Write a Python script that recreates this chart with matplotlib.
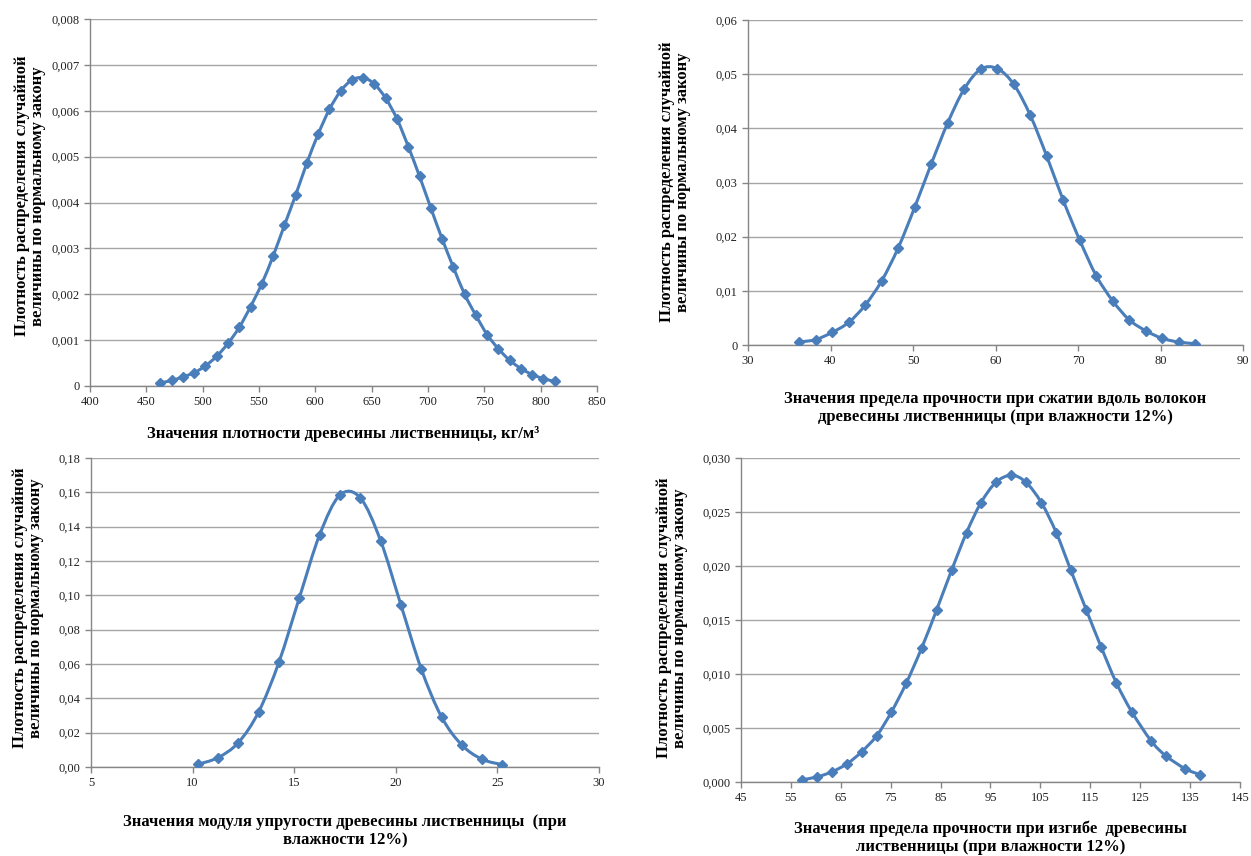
import matplotlib.pyplot as plt
import numpy as np
from matplotlib.patches import PathPatch
from matplotlib.path import Path
from matplotlib.ticker import FixedLocator, FuncFormatter

plt.rcParams["font.family"] = ["Liberation Serif", "DejaVu Serif"]

LINE_COLOR = "#4a7ebb"
AXIS_COLOR = "#868686"
GRID_COLOR = "#a6a6a6"

YLABEL = "Плотность распределения случайной\nвеличины по нормальному закону"

# Density of larch wood, kg/m3
density_x = [462.5, 472.5, 482.5, 492.5, 502.5, 512.5, 522.5, 532.5, 542.5,
             552.5, 562.5, 572.5, 582.5, 592.5, 602.5, 612.5, 622.5, 632.5,
             642.5, 652.5, 662.5, 672.5, 682.5, 692.5, 702.5, 712.5, 722.5,
             732.5, 742.5, 752.5, 762.5, 772.5, 782.5, 792.5, 802.5, 812.5]
density_y = [0.00007, 0.00012, 0.00020, 0.00029, 0.00044, 0.00065, 0.00093,
             0.00128, 0.00173, 0.00223, 0.00283, 0.00350, 0.00416, 0.00486,
             0.00549, 0.00603, 0.00643, 0.00667, 0.00672, 0.00658, 0.00627,
             0.00582, 0.00522, 0.00457, 0.00388, 0.00321, 0.00259, 0.00200,
             0.00154, 0.00112, 0.00081, 0.00056, 0.00038, 0.00025, 0.00016,
             0.00010]

# Compression strength along the grain
compress_x = [36.2, 38.2, 40.2, 42.2, 44.2, 46.2, 48.2, 50.2, 52.2, 54.2,
              56.2, 58.2, 60.2, 62.2, 64.2, 66.2, 68.2, 70.2, 72.2, 74.2,
              76.2, 78.2, 80.2, 82.2, 84.2]
compress_y = [0.00055, 0.0010, 0.00233, 0.00417, 0.00736, 0.01184, 0.01791,
              0.0254, 0.03337, 0.04098, 0.04724, 0.05092, 0.05104, 0.04816,
              0.04245, 0.03491, 0.02675, 0.01939, 0.01282, 0.00816, 0.00466,
              0.00264, 0.00123, 0.00055, 0.00025]

# Modulus of elasticity
modulus_x = [10.25, 11.25, 12.25, 13.25, 14.25, 15.25, 16.25, 17.25, 18.25,
             19.25, 20.25, 21.25, 22.25, 23.25, 24.25, 25.25]
modulus_y = [0.00156, 0.00545, 0.0142, 0.0321, 0.0611, 0.0984, 0.1352, 0.1584,
             0.1568, 0.1319, 0.0945, 0.0572, 0.0292, 0.0128, 0.0045, 0.00136]

# Bending strength
bending_x = [57.2, 60.2, 63.3, 66.3, 69.2, 72.2, 75.1, 78.1, 81.2, 84.2, 87.2,
             90.2, 93.1, 96.1, 99.2, 102.1, 105.2, 108.2, 111.1, 114.2, 117.2,
             120.2, 123.3, 127.2, 130.1, 134.0, 137.0]
bending_y = [0.00022, 0.00046, 0.00096, 0.0017, 0.00281, 0.00429, 0.00645,
             0.00914, 0.0124, 0.01593, 0.0196, 0.02309, 0.02586, 0.02775,
             0.0284, 0.02775, 0.02586, 0.02306, 0.0196, 0.01593, 0.01247,
             0.0092, 0.00651, 0.0038, 0.00244, 0.00123, 0.00068]

PANELS = [
    dict(x=density_x, y=density_y, rect=(90, 19, 597, 386),
         xticks=np.arange(400, 851, 50), yticks=np.arange(0, 0.0081, 0.001),
         ydec=3, yzero="0", ylab=(30, 196),
         xlabel="Значения плотности древесины лиственницы, кг/м³", xlab_y=434),
    dict(x=compress_x, y=compress_y, rect=(748, 20, 1243, 345),
         xticks=np.arange(30, 91, 10), yticks=np.arange(0, 0.061, 0.01),
         ydec=2, yzero="0", ylab=(675, 182),
         xlabel="Значения предела прочности при сжатии вдоль волокон\n"
                "древесины лиственницы (при влажности 12%)", xlab_y=408),
    dict(x=modulus_x, y=modulus_y, rect=(91, 458, 599, 767),
         xticks=np.arange(5, 31, 5), yticks=np.arange(0, 0.181, 0.02),
         ydec=2, yzero="0,00", ylab=(28, 608),
         xlabel="Значения модуля упругости древесины лиственницы  (при\n"
                "влажности 12%)", xlab_y=831),
    dict(x=bending_x, y=bending_y, rect=(741, 458, 1240, 782),
         xticks=np.arange(45, 146, 10), yticks=np.arange(0, 0.0301, 0.005),
         ydec=3, yzero="0,000", ylab=(672, 618),
         xlabel="Значения предела прочности при изгибе  древесины\n"
                "лиственницы (при влажности 12%)", xlab_y=838),
]

W, H = 1251, 856


def smooth_path(x, y):
    # Excel-like smoothed line: Catmull-Rom converted to cubic Bezier segments
    x = np.asarray(x, float)
    y = np.asarray(y, float)
    px = np.concatenate([[x[0]], x, [x[-1]]])
    py = np.concatenate([[y[0]], y, [y[-1]]])
    verts = [(x[0], y[0])]
    codes = [Path.MOVETO]
    for i in range(1, len(px) - 2):
        c1 = (px[i] + (px[i + 1] - px[i - 1]) / 6, py[i] + (py[i + 1] - py[i - 1]) / 6)
        c2 = (px[i + 1] - (px[i + 2] - px[i]) / 6, py[i + 1] - (py[i + 2] - py[i]) / 6)
        verts += [c1, c2, (px[i + 1], py[i + 1])]
        codes += [Path.CURVE4] * 3
    return Path(verts, codes)


def comma_fmt(dec, zero):
    def fmt(v, _):
        if abs(v) < 1e-12:
            return zero
        if dec == 0:
            return f"{v:.0f}"
        return f"{v:.{dec}f}".replace(".", ",")
    return FuncFormatter(fmt)


fig = plt.figure(figsize=(W / 100, H / 100), dpi=100)

for p in PANELS:
    l, t, r, b = p["rect"]
    ax = fig.add_axes([l / W, 1 - b / H, (r - l) / W, (b - t) / H])
    xt, yt = p["xticks"], p["yticks"]
    ax.set_xlim(xt[0], xt[-1])
    ax.set_ylim(0, yt[-1])
    ax.xaxis.set_major_locator(FixedLocator(xt))
    ax.yaxis.set_major_locator(FixedLocator(yt))
    ax.xaxis.set_major_formatter(comma_fmt(0, "0"))
    ax.yaxis.set_major_formatter(comma_fmt(p["ydec"], p["yzero"]))

    ax.grid(axis="y", color=GRID_COLOR, lw=1.0)
    ax.set_axisbelow(True)
    for side in ("top", "right"):
        ax.spines[side].set_visible(False)
    for side in ("left", "bottom"):
        ax.spines[side].set_color(AXIS_COLOR)
        ax.spines[side].set_linewidth(1.0)
    ax.tick_params(axis="both", colors=AXIS_COLOR, length=4, width=1.0,
                   labelsize=9, labelcolor="#222222")
    ax.tick_params(axis="x", pad=3)

    ax.add_patch(PathPatch(smooth_path(p["x"], p["y"]), fill=False,
                           edgecolor=LINE_COLOR, lw=2.2, zorder=3))
    ax.plot(p["x"], p["y"], linestyle="none", marker="D", ms=5.5,
            color=LINE_COLOR, zorder=4)

    lx, ly = p["ylab"]
    fig.text(lx / W, 1 - ly / H, YLABEL, rotation=90,
             ha="center", va="center", fontsize=12, fontweight="bold",
             linespacing=1.05)
    fig.text(((l + r) / 2) / W, 1 - p["xlab_y"] / H, p["xlabel"],
             ha="center", va="center", fontsize=12, fontweight="bold",
             linespacing=1.2)

fig.savefig("out.png", dpi=100, facecolor="white")
